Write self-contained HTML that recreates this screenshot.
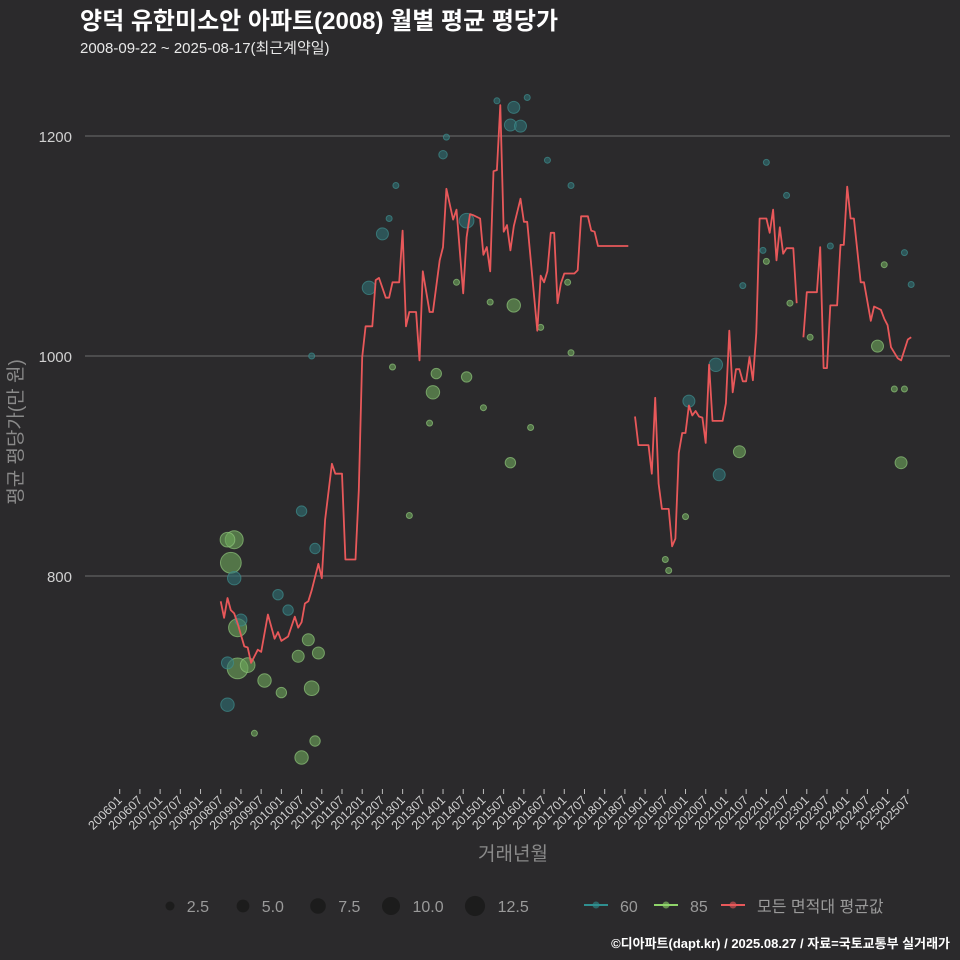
<!DOCTYPE html>
<html><head><meta charset="utf-8">
<style>
html,body{margin:0;padding:0;background:#2b2a2c;}
svg{display:block;font-family:"Liberation Sans","Noto Sans CJK KR",sans-serif;}
</style></head>
<body>
<svg id="chart" width="960" height="960" viewBox="0 0 960 960">
<rect width="960" height="960" fill="#2b2a2c"/>
<text x="80" y="29" fill="#ffffff" font-size="24" font-weight="bold">양덕 유한미소안 아파트(2008) 월별 평균 평당가</text>
<text x="80" y="53" fill="#e8e8e8" font-size="15">2008-09-22 ~ 2025-08-17(최근계약일)</text>
<g id="grid"></g>
<g id="bubbles"></g>
<g id="line"></g>
<g id="xaxis"></g>
<text x="22" y="432" fill="#8a8a8a" font-size="19" text-anchor="middle" transform="rotate(-90 22 432)">평균 평당가(만 원)</text>
<text x="513" y="860" fill="#8a8a8a" font-size="19" text-anchor="middle">거래년월</text>
<g id="legend"></g>
<text x="950" y="948" fill="#ffffff" font-size="13" font-weight="bold" text-anchor="end">©디아파트(dapt.kr) / 2025.08.27 / 자료=국토교통부 실거래가</text>
</svg>
<script>
const yTicks = [800, 1000, 1200];
const xTickLabels = [];
for (let y = 2006; y <= 2025; y++) { xTickLabels.push(y + "01"); xTickLabels.push(y + "07"); }

const lineMonths = ["2008-07","2008-08","2008-09","2008-10","2008-11","2008-12","2009-02","2009-03","2009-04","2009-06","2009-07","2009-09","2009-11","2009-12","2010-01","2010-03","2010-05","2010-06","2010-07","2010-08","2010-09","2010-10","2010-12","2011-01","2011-02","2011-04","2011-05","2011-07","2011-08","2011-11","2011-12","2012-01","2012-02","2012-04","2012-05","2012-06","2012-08","2012-09","2012-10","2012-12","2013-01","2013-02","2013-03","2013-05","2013-06","2013-07","2013-09","2013-10","2013-12","2014-01","2014-02","2014-04","2014-05","2014-07","2014-08","2014-09","2014-10","2014-12","2015-01","2015-02","2015-03","2015-04","2015-05","2015-06","2015-07","2015-08","2015-09","2015-10","2015-12","2016-01","2016-02","2016-05","2016-06","2016-07","2016-08","2016-09","2016-10","2016-11","2016-12","2017-01","2017-04","2017-05","2017-06","2017-08","2017-09","2017-10","2017-11","2018-08","GAP","2018-10","2018-11","2019-02","2019-03","2019-04","2019-05","2019-06","2019-08","2019-09","2019-10","2019-11","2019-12","2020-01","2020-02","2020-03","2020-04","2020-05","2020-06","2020-07","2020-08","2020-09","2020-12","2021-01","2021-02","2021-03","2021-04","2021-05","2021-06","2021-07","2021-08","2021-09","2021-10","2021-11","2022-01","2022-02","2022-03","2022-04","2022-05","2022-06","2022-07","2022-09","2022-10","GAP","2022-12","2023-01","2023-04","2023-05","2023-06","2023-07","2023-08","2023-10","2023-11","2023-12","2024-01","2024-02","2024-03","2024-04","2024-05","2024-06","2024-08","2024-09","2024-11","2024-12","2025-01","2025-02","2025-04","2025-05","2025-07","2025-08"];
const lineValues = [777,762,780,769,766,757,736,735,721,733,731,765,743,749,741,745,763,753,758,775,777,787,811,798,851,902,893,893,815,815,878,999,1027,1027,1069,1071,1053,1053,1067,1067,1114,1027,1040,1040,996,1077,1040,1040,1087,1099,1152,1124,1133,1057,1108,1129,1128,1125,1092,1099,1077,1168,1169,1228,1113,1119,1096,1118,1143,1122,1122,1023,1073,1067,1077,1112,1112,1048,1066,1075,1075,1078,1127,1127,1114,1113,1100,1100,null,945,919,919,893,962,884,861,861,827,834,912,930,930,955,946,950,945,944,921,992,941,941,957,1023,967,988,988,977,977,999,978,1021,1125,1125,1112,1133,1087,1117,1093,1098,1098,1048,null,1017,1058,1058,1099,989,989,1046,1046,1101,1101,1154,1125,1125,1096,1067,1067,1032,1045,1042,1034,1028,1008,998,996,1015,1017];

const bubbleMonths = ["2008-10","2008-11","2008-09","2008-11","2008-12","2008-12","2009-03","2008-09","2008-09","2009-01","2009-08","2010-01","2010-10","2010-09","2010-12","2010-06","2010-07","2010-11","2009-05","2009-12","2010-03","2010-07","2010-11","2010-10","2012-03","2012-07","2012-09","2012-11","2014-01","2014-02","2015-05","2015-10","2015-09","2015-12","2016-02","2016-08","2017-03","2014-08","2013-10","2013-11","2014-08","2015-10","2015-09","2013-09","2015-01","2016-03","2014-05","2015-03","2016-06","2017-02","2017-03","2013-03","2012-10","2020-10","2020-11","2020-02","2021-05","2020-01","2019-07","2019-08","2025-05","2024-10","2025-03","2025-06","2022-01","2022-08","2023-02","2024-12","2022-01","2022-07","2021-06","2021-12","2025-06","2025-08","2023-08"];
const bubbleValues = [812,833,833,798,753,716,719,683,721,760,705,694,698,742,730,727,635,650,657,783,769,859,825,1000,1062,1111,1125,1155,1183,1199,1232,1226,1210,1209,1235,1178,1155,1123,967,984,981,1046,903,939,953,935,1067,1049,1026,1067,1003,855,990,992,892,959,913,854,815,805,903,1009,970,970,1086,1048,1017,1083,1176,1146,1064,1096,1094,1065,1100];
const bubbleCounts = [12,9,6,5,9,12,6,5,4,4,5,3,6,4,4,4,5,3,1,3,3,3,3,1,5,4,1,1,2,1,1,4,4,4,1,1,1,6,5,3,3,5,3,1,1,1,1,1,1,1,1,1,1,5,4,4,4,1,1,1,4,4,1,1,1,1,1,1,1,1,1,1,1,1,1];
const bubbleTypes = ["85","85","85","60","85","85","85","60","60","60","85","85","85","85","85","85","85","85","85","60","60","60","60","60","60","60","60","60","60","60","60","60","60","60","60","60","60","60","85","85","85","85","85","85","85","85","85","85","85","85","85","85","85","60","60","60","85","85","85","85","85","85","85","85","85","85","85","85","60","60","60","60","60","60","60"];

const X0 = 119.7, PXM = 3.368;
function monthIndex(s){ const y=+s.slice(0,4), m=+s.slice(5,7); return (y-2006)*12+(m-1); }
function xScale(s){ return X0 + monthIndex(s)*PXM; }
function yScale(v){ return 356 - (v-1000)*1.1; }
const NS = "http://www.w3.org/2000/svg";
function mk(tag, attrs, parent){ const e=document.createElementNS(NS,tag); for(const k in attrs) e.setAttribute(k,attrs[k]); parent.appendChild(e); return e; }

const grid = document.getElementById("grid");
yTicks.forEach(v=>{
  const l = mk("line",{x1:85,x2:950,y1:yScale(v),y2:yScale(v),stroke:"#6e6e6e","stroke-width":1},grid);
  
  
  const t = mk("text",{x:72,y:yScale(v)+6,fill:"#d0d0d0","font-size":15,"text-anchor":"end"},grid);
  t.textContent = v;
  
  
});

const xa = document.getElementById("xaxis");
xTickLabels.forEach(lab=>{
  const x = xScale(lab.slice(0,4)+"-"+lab.slice(4,6));
  const tk = mk("line",{x1:x,x2:x,y1:789,y2:794,stroke:"#bdbdbd","stroke-width":1},xa);
  
  
  const t = mk("text",{x:x+3,y:801,fill:"#d0d0d0","font-size":12.5,"text-anchor":"end",transform:`rotate(-45 ${x+3} 801)`},xa);
  t.textContent = lab;
  
  
});

const bg = document.getElementById("bubbles");
const colors = {"60":{f:"#2f7274",s:"#3f8d8d"},"85":{f:"#6ea85c",s:"#8fc47a"}};
function rad(n){ return 3*Math.sqrt(n); }
const order = bubbleCounts.map((c,i)=>i).sort((a,b)=>bubbleCounts[b]-bubbleCounts[a]);
order.forEach(i=>{
  const c = colors[bubbleTypes[i]];
  const el = mk("circle",{cx:xScale(bubbleMonths[i]),cy:yScale(bubbleValues[i]),r:rad(bubbleCounts[i]),fill:c.f,"fill-opacity":0.6,stroke:c.s,"stroke-opacity":0.7,"stroke-width":1},bg);
  
  
});

const lg = document.getElementById("line");
let segs=[[]];
lineMonths.forEach((m,i)=>{
  if(m==="GAP"||lineValues[i]==null){ segs.push([]); return; }
  segs[segs.length-1].push(xScale(m).toFixed(1)+","+yScale(lineValues[i]).toFixed(1));
});
segs.forEach(s=>{
  if(s.length<2) return;
  const p = mk("polyline",{points:s.join(" "),fill:"none",stroke:"#e8585a","stroke-width":1.8,"stroke-linejoin":"round"},lg);
  
  
});

const leg = document.getElementById("legend");
const legSizes = [2.5,5,7.5,10,12.5];
const legX = [170,243,318,391,475];
legSizes.forEach((s,i)=>{
  const c = mk("circle",{cx:legX[i],cy:906,r:rad(s)*0.95,fill:"#1c1c1c"},leg);
  
  
  const t = mk("text",{x:legX[i]+rad(s)+12,y:912,fill:"#9a9a9a","font-size":16},leg);
  t.textContent = s.toFixed(1);
  
  
});
const lineLeg = [{x:584,col:"#2f8f90",lab:"60"},{x:654,col:"#8fd46a",lab:"85"},{x:721,col:"#e8585a",lab:"모든 면적대 평균값"}];
lineLeg.forEach(e=>{
  const l = mk("line",{x1:e.x,x2:e.x+24,y1:905,y2:905,stroke:e.col,"stroke-width":2},leg);
  
  
  const c = mk("circle",{cx:e.x+12,cy:905,r:3.5,fill:e.col,"fill-opacity":0.6},leg);
  
  
  const t = mk("text",{x:e.x+36,y:912,fill:"#9a9a9a","font-size":16},leg);
  t.textContent = e.lab;
  
  
});
</script>
</body></html>
